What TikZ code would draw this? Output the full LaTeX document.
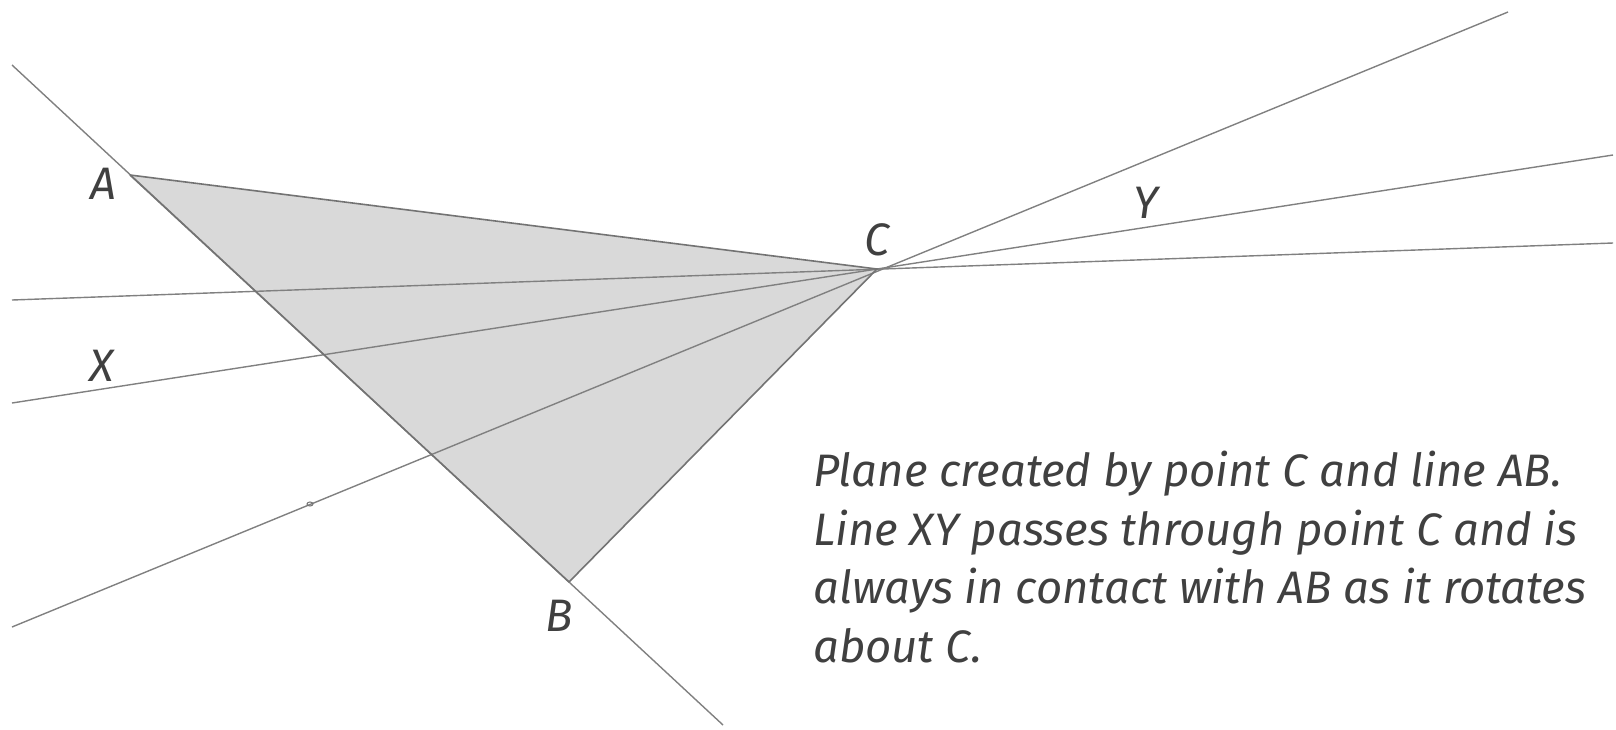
\documentclass[tikz,border=0pt]{standalone}
\usepackage{fontspec}
\setmainfont{Fira Sans}
\begin{document}
\begin{tikzpicture}[x=1pt,y=-1pt,
  ln/.style={draw=black!50,line width=1.4pt},
  edge/.style={draw=black!55,line width=1.6pt},
  lbl/.style={font=\fontsize{45.5}{50}\selectfont\itshape,text=black!75,inner sep=0pt},
  body/.style={font=\fontsize{45.5}{58.5}\selectfont\itshape,text=black!75,inner sep=0pt,align=left,anchor=north west}]
\useasboundingbox (0,0) rectangle (1616,729);
\coordinate (A) at (130,175);
\coordinate (B) at (569,582);
\coordinate (C) at (877,269);
\coordinate (ab1) at (12,65);
\coordinate (ab2) at (723,725);
\coordinate (l1a) at (12,627);
\coordinate (l1b) at (1508,12);
\coordinate (l2a) at (12,403);
\coordinate (l2b) at (1613,155);
\coordinate (l3a) at (12,300);
\coordinate (l3b) at (1613,243);
\fill[black!15] (A) -- (B) -- (C) -- cycle;
\draw[ln] (ab1) -- (ab2);
\draw[ln] (l1a) -- (l1b);
\draw[ln] (l2a) -- (l2b);
\draw[ln] (l3a) -- (l3b);
\draw[edge] (A) -- (C) -- (B);
\draw[edge] (A) -- (B);
\draw[black!55,line width=1pt] (310,504) ellipse (3 and 2);
\node[lbl] (lA) at (103,184) {A};
\node[lbl] (lB) at (559,616) {B};
\node[lbl] (lC) at (877,240) {C};
\node[lbl] (lX) at (102,366) {X};
\node[lbl] (lY) at (1146,203) {Y};
\node[body] (txt) at (813,451) {Plane created by point C and line AB.\\Line XY passes through point C and is\\always in contact with AB as it rotates\\about C.};
\end{tikzpicture}
\end{document}
